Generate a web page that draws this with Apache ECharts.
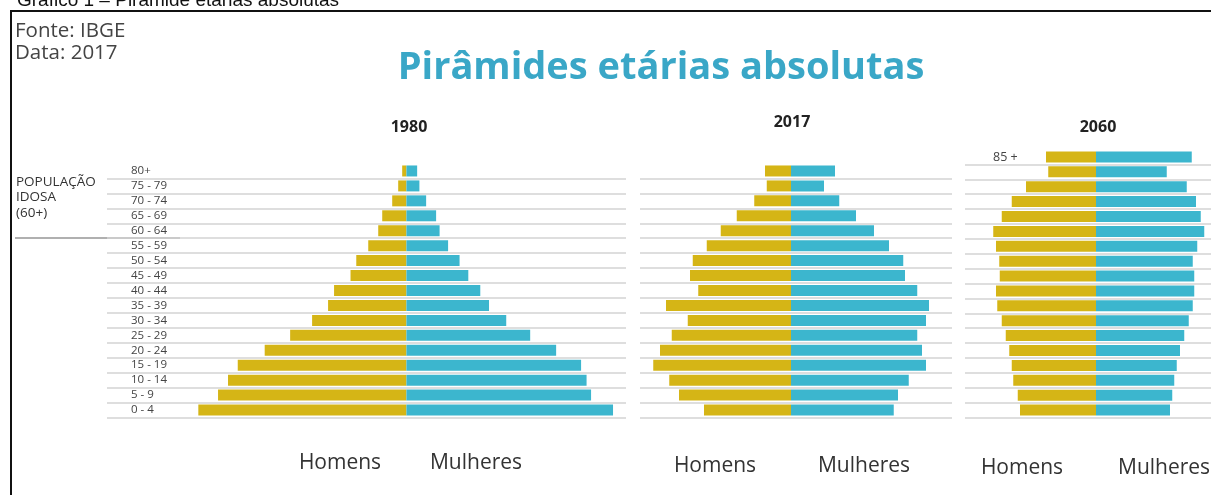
<!DOCTYPE html>
<html>
<head>
<meta charset="utf-8">
<title>Pirâmides etárias absolutas</title>
<script src="https://cdn.jsdelivr.net/npm/echarts@6/dist/echarts.min.js"></script>
<style>
  html, body { margin: 0; padding: 0; background: #fff; }
  #chart { width: 1211px; height: 495px; }
</style>
</head>
<body>
<div id="chart"></div>
<script>
/**
 * faixas etárias (de cima para baixo)
 */
const faixas = ['80+', '75 - 79', '70 - 74', '65 - 69', '60 - 64', '55 - 59', '50 - 54',
  '45 - 49', '40 - 44', '35 - 39', '30 - 34', '25 - 29', '20 - 24', '15 - 19',
  '10 - 14', '5 - 9', '0 - 4'];
const faixas2060 = ['85 +', '80 - 84', '75 - 79', '70 - 74', '65 - 69', '60 - 64', '55 - 59',
  '50 - 54', '45 - 49', '40 - 44', '35 - 39', '30 - 34', '25 - 29', '20 - 24',
  '15 - 19', '10 - 14', '5 - 9', '0 - 4'];

// população (milhões), mesma ordem das faixas
const homens1980 = [0.17, 0.33, 0.57, 0.97, 1.13, 1.53, 2.01, 2.24, 2.90, 3.14, 3.78, 4.66, 5.68, 6.76, 7.15, 7.55, 8.34];
const mulheres1980 = [0.43, 0.52, 0.79, 1.19, 1.33, 1.67, 2.13, 2.48, 2.96, 3.31, 4.00, 4.96, 6.00, 7.00, 7.22, 7.40, 8.28];
const homens2017 = [1.04, 0.97, 1.47, 2.17, 2.81, 3.37, 3.93, 4.04, 3.71, 5.00, 4.13, 4.77, 5.24, 5.51, 4.87, 4.48, 3.48];
const mulheres2017 = [1.76, 1.32, 1.93, 2.60, 3.32, 3.92, 4.49, 4.56, 5.05, 5.52, 5.40, 5.05, 5.24, 5.40, 4.71, 4.28, 4.11];
const homens2060 = [2.00, 1.91, 2.80, 3.37, 3.77, 4.11, 4.00, 3.87, 3.85, 4.00, 3.95, 3.77, 3.61, 3.47, 3.37, 3.31, 3.13, 3.04];
const mulheres2060 = [3.83, 2.83, 3.63, 4.00, 4.19, 4.33, 4.05, 3.87, 3.93, 3.93, 3.87, 3.71, 3.53, 3.36, 3.23, 3.13, 3.05, 2.96];

const anos = ['1980', '2017', '2060'];

const corHomens = '#d5b516';
const corMulheres = '#3cb6ce';
const fonte = '"Open Sans", "Noto Sans", sans-serif';

const chart = echarts.init(document.getElementById('chart'), null, {
  renderer: 'canvas'
});

/**
 * eixo de categorias de cada pirâmide
 * (sem a linha acima da primeira faixa)
 */
function eixoIdade(idx, dados, label) {
  return {
    type: 'category',
    gridIndex: idx,
    data: dados,
    inverse: true,
    axisLine: { show: false },
    axisTick: { show: false },
    splitLine: {
      show: true,
      interval: i => i !== 0,
      lineStyle: { color: '#d3d3d3', width: 1.5 }
    },
    axisLabel: label
  };
}

function eixoValor(idx, min, max) {
  return {
    type: 'value',
    gridIndex: idx,
    min: min,
    max: max,
    show: false,
    splitLine: { show: false }
  };
}

function barras(idx, homens, mulheres) {
  return [{
    name: 'Homens',
    type: 'bar',
    xAxisIndex: idx,
    yAxisIndex: idx,
    barWidth: 11,
    barGap: '-100%',
    itemStyle: { color: corHomens },
    data: homens.map(v => -v)
  }, {
    name: 'Mulheres',
    type: 'bar',
    xAxisIndex: idx,
    yAxisIndex: idx,
    barWidth: 11,
    barGap: '-100%',
    itemStyle: { color: corMulheres },
    data: mulheres
  }];
}

function texto(x, y, str, font, extra) {
  return {
    type: 'text',
    x: x,
    y: y,
    style: Object.assign({
      text: str,
      font: font,
      fill: '#333',
      align: 'center',
      verticalAlign: 'middle'
    }, extra || {})
  };
}

var option = {
  animation: false,
  backgroundColor: '#fff',
  grid: [
    { left: 107, top: 163.5, width: 519, height: 254 },
    { left: 640, top: 163.5, width: 312, height: 254 },
    { left: 965, top: 149.5, width: 246, height: 268 }
  ],
  xAxis: [
    eixoValor(0, -12, 8.8),
    eixoValor(1, -6.04, 6.44),
    eixoValor(2, -5.24, 4.6)
  ],
  yAxis: [
    eixoIdade(0, faixas, {
      inside: true,
      interval: 0,
      margin: 24,
      fontSize: 11.5,
      color: '#444',
      fontFamily: fonte
    }),
    eixoIdade(1, faixas, { show: false }),
    eixoIdade(2, faixas2060, {
      inside: true,
      margin: 28,
      fontSize: 12.5,
      color: '#444',
      fontFamily: fonte,
      interval: 0,
      formatter: v => (v === '85 +' ? v : '')
    })
  ],
  series: [].concat(
    barras(0, homens1980, mulheres1980),
    barras(1, homens2017, mulheres2017),
    barras(2, homens2060, mulheres2060)
  ),
  graphic: [
    // moldura
    {
      type: 'rect',
      shape: { x: 11, y: 11, width: 1230, height: 520 },
      style: { fill: null, stroke: '#111', lineWidth: 2 },
      silent: true
    },
    texto(17, 1, 'Gráfico 1 – Pirâmide etárias absolutas',
      '19px "Liberation Sans", Arial, sans-serif', { fill: '#111', align: 'left' }),
    texto(15, 31, 'Fonte: IBGE', '20.5px ' + fonte, { align: 'left', fill: '#444' }),
    texto(15, 53, 'Data: 2017', '20.5px ' + fonte, { align: 'left', fill: '#444' }),
    texto(661, 68, 'Pirâmides etárias absolutas', 'bold 38px ' + fonte, { fill: '#3aa7c7' }),
    texto(409, 127, anos[0], 'bold 16px ' + fonte, { fill: '#222' }),
    texto(792, 122, anos[1], 'bold 16px ' + fonte, { fill: '#222' }),
    texto(1098, 127, anos[2], 'bold 16px ' + fonte, { fill: '#222' }),
    // população idosa
    texto(16, 182, 'POPULAÇÃO', '13.5px ' + fonte, { align: 'left', fill: '#333' }),
    texto(16, 197, 'IDOSA', '13.5px ' + fonte, { align: 'left', fill: '#333' }),
    texto(16, 213, '(60+)', '13.5px ' + fonte, { align: 'left', fill: '#333' }),
    {
      type: 'line',
      shape: { x1: 15, y1: 238, x2: 180, y2: 238 },
      style: { stroke: '#b0b0b0', lineWidth: 2 },
      silent: true
    },
    texto(340, 463, 'Homens', '21px ' + fonte),
    texto(476, 463, 'Mulheres', '21px ' + fonte),
    texto(715, 466, 'Homens', '21px ' + fonte),
    texto(864, 466, 'Mulheres', '21px ' + fonte),
    texto(1022, 468, 'Homens', '21px ' + fonte),
    texto(1118, 468, 'Mulheres', '21px ' + fonte, { align: 'left' })
  ]
};

chart.setOption(option);
</script>
</body>
</html>
